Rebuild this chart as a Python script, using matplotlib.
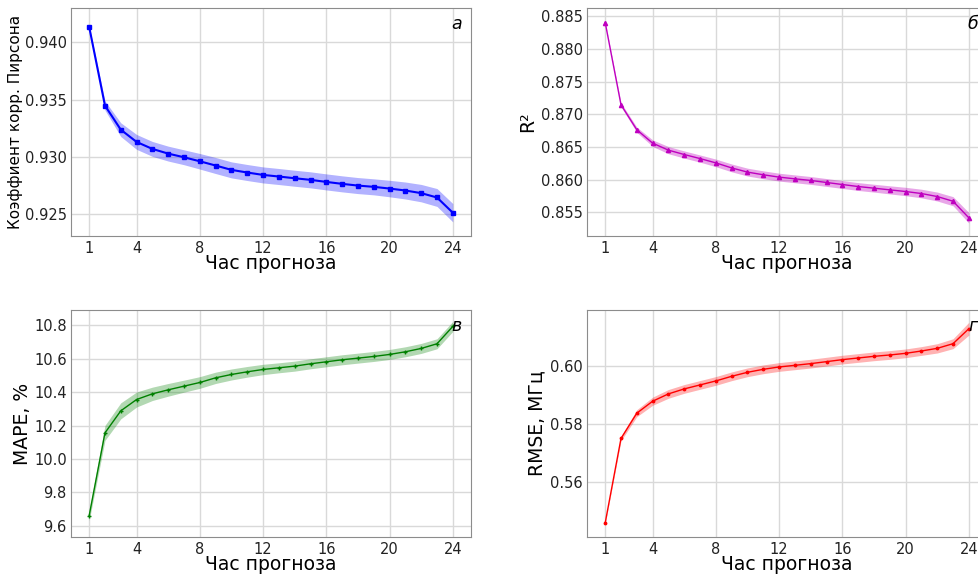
import matplotlib
matplotlib.use("Agg")
import matplotlib.pyplot as plt
import numpy as np

plt.rcParams['font.family'] = ['DejaVu Sans']

hours = np.arange(1, 25)
xticks = [1, 4, 8, 12, 16, 20, 24]

# Pearson correlation coefficient
pearson = [0.94136, 0.93448, 0.93238, 0.93131, 0.93070, 0.93029, 0.92997, 0.92962,
           0.92925, 0.92887, 0.92864, 0.92843, 0.92829, 0.92814, 0.92800, 0.92782,
           0.92765, 0.92750, 0.92739, 0.92724, 0.92707, 0.92684, 0.92646, 0.92513]
pearson_err = [0.0001, 0.0004, 0.0006, 0.00065, 0.00065, 0.00065, 0.00065, 0.00068,
               0.0007, 0.0007, 0.0007, 0.0007, 0.0007, 0.0007, 0.0007, 0.0007,
               0.0007, 0.0007, 0.0007, 0.00072, 0.00074, 0.00076, 0.00078, 0.0008]
pearson_ticks = [0.925, 0.930, 0.935, 0.940]

# R^2
r2 = [0.88408, 0.87148, 0.86766, 0.86561, 0.86454, 0.86387, 0.86325, 0.86259,
      0.86182, 0.86118, 0.86077, 0.86041, 0.86015, 0.85990, 0.85959, 0.85928,
      0.85897, 0.85872, 0.85846, 0.85821, 0.85790, 0.85744, 0.85672, 0.85418]
r2_err = [0.0001, 0.0003, 0.0004, 0.0005, 0.00055, 0.00055, 0.00055, 0.00058,
          0.0006, 0.0006, 0.0006, 0.0006, 0.0006, 0.0006, 0.0006, 0.0006,
          0.0006, 0.0006, 0.00062, 0.00064, 0.00066, 0.00068, 0.0007, 0.0008]
r2_ticks = [0.855, 0.860, 0.865, 0.870, 0.875, 0.880, 0.885]

# MAPE, %
mape = [9.660, 10.156, 10.288, 10.356, 10.390, 10.414, 10.436, 10.458,
        10.486, 10.506, 10.522, 10.536, 10.546, 10.556, 10.570, 10.582,
        10.594, 10.604, 10.614, 10.626, 10.642, 10.662, 10.690, 10.794]
mape_err = [0.03, 0.045, 0.048, 0.045, 0.04, 0.038, 0.036, 0.035,
            0.034, 0.033, 0.032, 0.031, 0.03, 0.03, 0.03, 0.03,
            0.03, 0.03, 0.03, 0.03, 0.03, 0.03, 0.03, 0.03]
mape_ticks = [9.6, 9.8, 10.0, 10.2, 10.4, 10.6, 10.8]

# RMSE, MHz
rmse = [0.54594, 0.57497, 0.58366, 0.58777, 0.59029, 0.59200, 0.59337, 0.59474,
        0.59634, 0.59771, 0.59874, 0.59954, 0.60011, 0.60069, 0.60137, 0.60206,
        0.60263, 0.60320, 0.60366, 0.60423, 0.60503, 0.60594, 0.60754, 0.61269]
rmse_err = [0.0003, 0.0008, 0.0012, 0.0014, 0.0015, 0.0015, 0.0015, 0.0015,
            0.0015, 0.0015, 0.0015, 0.0015, 0.0015, 0.0015, 0.0015, 0.0015,
            0.0015, 0.0015, 0.0015, 0.0015, 0.0015, 0.0016, 0.0017, 0.0022]
rmse_ticks = [0.56, 0.58, 0.60]

fig = plt.figure(figsize=(9.79, 5.76), dpi=100)

w, h = 0.4086, 0.3958
ax_a = fig.add_axes([0.0725, 0.5903, w, h])
ax_b = fig.add_axes([0.5996, 0.5903, w, h])
ax_c = fig.add_axes([0.0725, 0.0677, w, 0.394])
ax_d = fig.add_axes([0.5996, 0.0677, w, 0.394])

panels = [
    (ax_a, pearson, pearson_err, pearson_ticks, '%.3f', 'blue', 's', 3.5, 1.5, 0.3,
     'Коэффиент корр. Пирсона', 11, -0.12, 'а', (0.9231, 0.9430)),
    (ax_b, r2, r2_err, r2_ticks, '%.3f', 'm', '^', 3, 1.0, 0.35,
     'R²', 13.5, -0.125, 'б', (0.8514, 0.8863)),
    (ax_c, mape, mape_err, mape_ticks, '%.1f', 'g', '+', 3, 1.0, 0.3,
     'MAPE, %', 13.5, -0.0975, 'в', (9.532, 10.892)),
    (ax_d, rmse, rmse_err, rmse_ticks, '%.2f', 'r', '.', 3.5, 1.0, 0.3,
     'RMSE, МГц', 13.5, -0.1025, 'г', (0.5411, 0.6191)),
]

for (ax, y, err, yticks, fmt, color, marker, ms, lw, alpha,
     ylabel, yfs, ylx, letter, ylim) in panels:
    y = np.array(y)
    err = np.array(err)
    ax.fill_between(hours, y - err, y + err, color=color, alpha=alpha, linewidth=0)
    ax.plot(hours, y, color=color, marker=marker, markersize=ms, linewidth=lw)
    ax.set_xticks(xticks)
    ax.set_yticks(yticks)
    ax.yaxis.set_major_formatter(matplotlib.ticker.FormatStrFormatter(fmt))
    ax.set_ylim(*ylim)
    ax.grid(True, color='#d9d9d9', linewidth=1)
    ax.set_axisbelow(True)
    ax.tick_params(length=0, labelsize=10.5, colors='#222222')
    ax.tick_params(axis='y', pad=3)
    ax.tick_params(axis='x', pad=3.5)
    for s in ax.spines.values():
        s.set_color('#8c8c8c')
    ax.set_xlabel('Час прогноза', fontsize=13.5, labelpad=-1)
    ax.set_ylabel(ylabel, fontsize=yfs)
    ax.yaxis.set_label_coords(ylx, 0.5)
    ax.text(0.977, 0.93, letter, transform=ax.transAxes, fontsize=12.5,
            style='italic', ha='right', va='center')

fig.savefig('out.png', dpi=100)
